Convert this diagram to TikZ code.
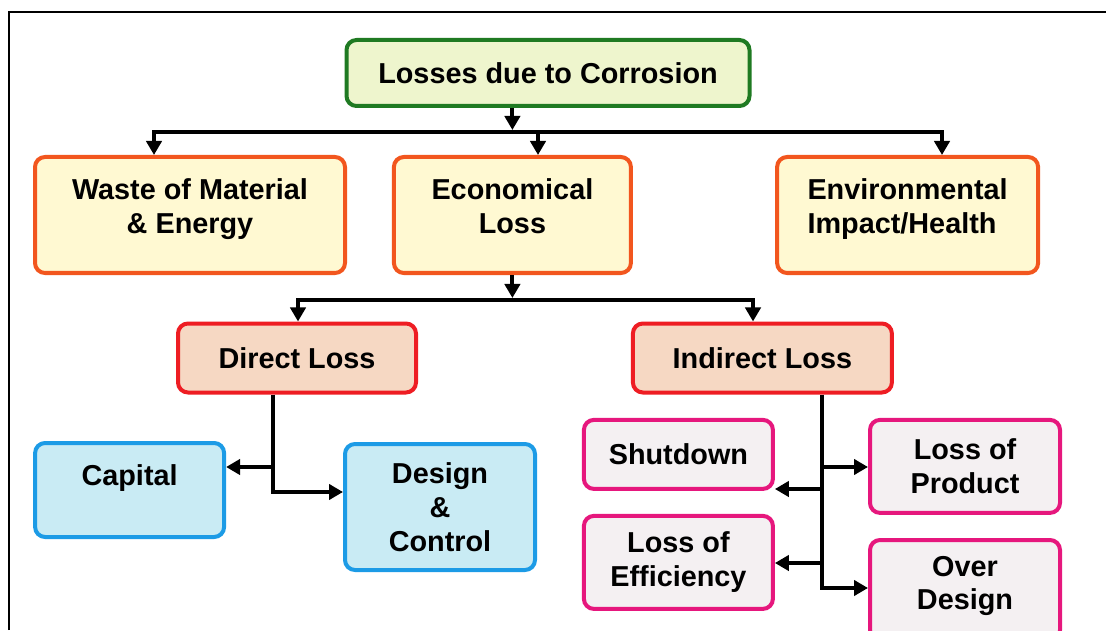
\documentclass[tikz,border=0pt]{standalone}
\usepackage{fontspec}
\setmainfont{Liberation Sans}
\usetikzlibrary{arrows.meta}

\definecolor{vert}{HTML}{1F7A22}
\definecolor{vertclair}{HTML}{EEF5CD}
\definecolor{orange}{HTML}{F2561E}
\definecolor{jaune}{HTML}{FFF9D2}
\definecolor{rouge}{HTML}{EE1D23}
\definecolor{peche}{HTML}{F6D8C3}
\definecolor{bleu}{HTML}{1C9BE6}
\definecolor{bleuclair}{HTML}{C9EBF4}
\definecolor{rose}{HTML}{E6177D}
\definecolor{gris}{HTML}{F4F0F2}

\begin{document}
\begin{tikzpicture}
\tikzset{boite/.style={draw, rounded corners=0.25cm, line width=0.1cm, align=center, inner sep=0pt,
    font=\bfseries\fontsize{20.5}{24}\selectfont},
  trait/.style={line width=0.1cm},
  fleche/.style={trait, -{Triangle[length=0.35cm, width=0.38cm]}},
  fleches/.style={trait, {Triangle[length=0.35cm, width=0.38cm]}-{Triangle[length=0.35cm, width=0.38cm]}}}
\clip (0, 0) rectangle (27.65, 15.75);
\draw[line width=0.07cm] (0.225, 0) -- (0.225, 15.45) -- (27.65, 15.45);

\node[boite, draw=vert, fill=vertclair, minimum width=10.075cm, minimum height=1.65cm] (L) at (13.7, 13.925) {Losses due to Corrosion};
\node[boite, draw=orange, fill=jaune, minimum width=7.75cm, minimum height=2.9cm, text depth=0.45cm] (W) at (4.75, 10.375) {Waste of Material\\\& Energy};
\node[boite, draw=orange, fill=jaune, minimum width=5.925cm, minimum height=2.9cm, text depth=0.45cm] (E) at (12.81, 10.375) {Economical\\Loss};
\node[boite, draw=orange, fill=jaune, minimum width=6.525cm, minimum height=2.9cm, text depth=0.45cm, align=left] (H) at (22.69, 10.375) {Environmental\\Impact/Health};
\node[boite, draw=rouge, fill=peche, minimum width=5.95cm, minimum height=1.725cm] (D) at (7.425, 6.8) {Direct Loss};
\node[boite, draw=rouge, fill=peche, minimum width=6.475cm, minimum height=1.725cm] (I) at (19.06, 6.8) {Indirect Loss};
\node[boite, draw=bleu, fill=bleuclair, minimum width=4.725cm, minimum height=2.35cm, text depth=0.75cm] (C) at (3.24, 3.5) {Capital};
\node[boite, draw=bleu, fill=bleuclair, minimum width=4.75cm, minimum height=3.15cm] (DC) at (11.0, 3.075) {Design\\\&\\Control};
\node[boite, draw=rose, fill=gris, minimum width=4.725cm, minimum height=1.725cm] (S) at (16.96, 4.39) {Shutdown};
\node[boite, draw=rose, fill=gris, minimum width=4.725cm, minimum height=2.325cm] (LE) at (16.96, 1.69) {Loss of\\Efficiency};
\node[boite, draw=rose, fill=gris, minimum width=4.75cm, minimum height=2.325cm] (LP) at (24.125, 4.09) {Loss of\\Product};
\node[boite, draw=rose, fill=gris, minimum width=4.75cm, minimum height=2.5cm, text depth=0.35cm] (OD) at (24.125, 1.0) {Over\\Design};

\coordinate (a1) at (3.85, 12.45);
\coordinate (a2) at (23.55, 12.45);
\coordinate (a3) at (13.45, 12.45);
\coordinate (b1) at (7.45, 8.25);
\coordinate (b2) at (18.825, 8.25);
\coordinate (d1) at (6.825, 4.075);
\coordinate (d2) at (6.825, 3.45);
\coordinate (i1) at (20.55, 4.075);
\coordinate (i2) at (20.55, 3.525);
\coordinate (i3) at (20.55, 1.675);
\coordinate (i4) at (20.55, 1.05);

\draw[fleche] (L.south -| E) -- (12.81, 12.5);
\draw[fleches] (a1 |- W.north) -- (a1) -- (a2) -- (a2 |- H.north);
\draw[fleche] (a3) -- (a3 |- E.north);
\draw[fleche] (E.south) -- (12.81, 8.3);
\draw[fleches] (b1 |- D.north) -- (b1) -- (b2) -- (b2 |- I.north);
\draw[fleche] (d2 |- D.south) -- (d2) -- (d2 -| DC.west);
\draw[fleche] (d1) -- (d1 -| C.east);
\draw[fleche] (i4 |- I.south) -- (i4) -- (i4 -| OD.west);
\draw[fleche] (i1) -- (i1 -| LP.west);
\draw[fleche] (i2) -- (i2 -| S.east);
\draw[fleche] (i3) -- (i3 -| LE.east);
\end{tikzpicture}
\end{document}
